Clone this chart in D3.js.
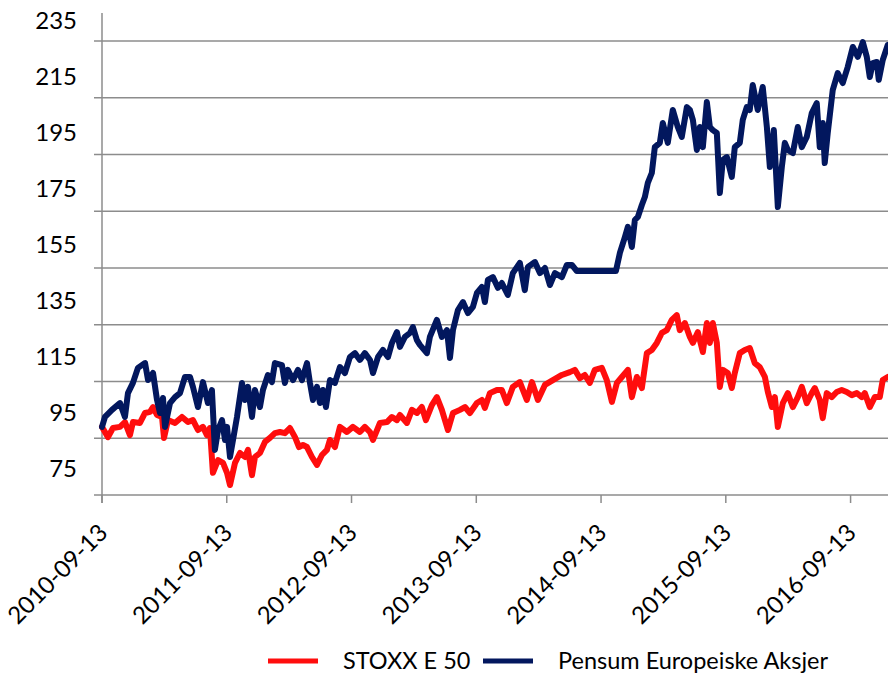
<!DOCTYPE html>
<html>
<head>
<meta charset="utf-8">
<script src="https://cdn.jsdelivr.net/npm/d3@7"></script>
<style>
body{margin:0;background:#fff}
text{font-family:Lato,"Open Sans",sans-serif;fill:#000}
</style>
</head>
<body>
<svg id="main_svg" width="888" height="674"></svg>
<script>
// axis ticks
let yTicks = [75, 95, 115, 135, 155, 175, 195, 215, 235]
let xTickYears = [2010.70, 2011.70, 2012.70, 2013.70, 2014.70, 2015.70, 2016.70]
let xTickLabels = ["2010-09-13", "2011-09-13", "2012-09-13", "2013-09-13", "2014-09-13", "2015-09-13", "2016-09-13"]
let seriesNames = ["STOXX E 50", "Pensum Europeiske Aksjer"]
let seriesColors = ["#ff0d0d", "#02175e"]

// STOXX E 50 (index, decimal year)
let stoxxYears = [2010.700,2010.748,2010.788,2010.844,2010.884,2010.924,2010.948,2011.004,2011.045,2011.085,
    2011.109,2011.141,2011.181,2011.197,2011.229,2011.285,2011.341,2011.389,2011.429,2011.469,
    2011.509,2011.541,2011.565,2011.589,2011.630,2011.670,2011.702,2011.726,2011.766,2011.806,
    2011.846,2011.870,2011.902,2011.926,2011.966,2012.006,2012.046,2012.086,2012.126,2012.166,
    2012.206,2012.247,2012.279,2012.311,2012.343,2012.383,2012.423,2012.463,2012.503,2012.527,
    2012.567,2012.607,2012.663,2012.711,2012.767,2012.807,2012.848,2012.872,2012.928,2012.984,
    2013.024,2013.064,2013.088,2013.144,2013.184,2013.224,2013.264,2013.296,2013.344,2013.384,
    2013.424,2013.473,2013.513,2013.569,2013.609,2013.649,2013.705,2013.745,2013.769,2013.809,
    2013.865,2013.905,2013.945,2013.993,2014.049,2014.105,2014.146,2014.194,2014.250,2014.314,
    2014.386,2014.450,2014.490,2014.530,2014.570,2014.610,2014.650,2014.706,2014.746,2014.787,
    2014.827,2014.867,2014.915,2014.947,2014.987,2015.027,2015.067,2015.107,2015.147,2015.187,
    2015.227,2015.267,2015.307,2015.331,2015.372,2015.412,2015.436,2015.476,2015.516,2015.548,
    2015.572,2015.596,2015.628,2015.652,2015.676,2015.716,2015.748,2015.772,2015.812,2015.852,
    2015.892,2015.932,2015.972,2016.013,2016.037,2016.069,2016.093,2016.117,2016.157,2016.197,
    2016.237,2016.277,2016.309,2016.349,2016.389,2016.413,2016.453,2016.477,2016.509,2016.549,
    2016.589,2016.629,2016.669,2016.710,2016.750,2016.790,2016.814,2016.854,2016.894,2016.934,
    2016.958,2016.998]
let stoxxValues = [99.0,95.4,98.6,99.0,100.7,96.1,100.7,100.4,103.9,104.3,
    106.0,103.2,102.5,95.1,101.4,100.4,102.5,100.7,101.4,97.9,
    99.0,96.1,98.6,82.8,87.3,86.3,82.8,78.5,86.3,89.8,
    88.4,90.9,82.0,88.4,89.8,93.7,95.1,96.8,97.2,96.8,
    98.6,95.4,91.9,92.6,91.9,88.4,85.6,89.1,90.9,94.4,
    91.9,99.0,97.2,99.0,97.2,99.0,97.2,94.4,100.4,100.7,
    102.5,101.4,103.2,100.4,105.0,103.9,106.0,101.4,106.7,109.5,
    105.0,97.9,103.9,105.0,106.0,103.9,107.4,108.5,105.7,110.9,
    112.0,112.0,107.4,113.1,114.8,108.5,114.8,108.5,113.8,115.5,
    117.3,118.3,119.1,116.2,117.3,114.5,119.1,119.8,115.5,107.8,
    114.5,116.6,119.1,109.5,116.6,112.7,125.0,126.1,128.6,132.1,
    133.1,136.7,138.4,133.1,135.6,130.7,128.6,132.4,125.4,135.6,
    128.6,135.6,128.6,113.1,119.1,118.0,112.7,118.0,125.0,126.1,
    126.8,121.5,120.1,116.6,111.3,106.0,109.5,99.0,107.4,110.9,
    106.0,109.5,113.1,107.4,110.9,112.7,108.5,102.1,110.9,109.5,
    111.3,112.0,111.3,110.2,110.9,109.5,110.9,106.0,109.5,109.5,
    115.5,116.6]

// Pensum Europeiske Aksjer (index, decimal year)
let pensumYears = [2010.700,2010.724,2010.780,2010.844,2010.884,2010.908,2010.948,2010.988,2011.045,2011.069,
    2011.109,2011.141,2011.165,2011.189,2011.205,2011.245,2011.285,2011.325,2011.365,2011.405,
    2011.429,2011.469,2011.509,2011.549,2011.581,2011.605,2011.630,2011.662,2011.686,2011.702,
    2011.726,2011.750,2011.782,2011.822,2011.846,2011.870,2011.902,2011.926,2011.966,2011.990,
    2012.030,2012.062,2012.086,2012.142,2012.166,2012.190,2012.231,2012.271,2012.303,2012.343,
    2012.367,2012.391,2012.423,2012.447,2012.471,2012.495,2012.527,2012.567,2012.607,2012.647,
    2012.687,2012.727,2012.767,2012.807,2012.848,2012.872,2012.912,2012.952,2012.992,2013.024,
    2013.064,2013.088,2013.128,2013.168,2013.192,2013.224,2013.248,2013.304,2013.328,2013.384,
    2013.424,2013.465,2013.489,2013.513,2013.553,2013.593,2013.633,2013.673,2013.705,2013.745,
    2013.769,2013.793,2013.833,2013.873,2013.905,2013.953,2013.993,2014.049,2014.089,2014.114,
    2014.170,2014.210,2014.250,2014.290,2014.330,2014.386,2014.426,2014.466,2014.506,2014.819,
    2014.851,2014.891,2014.915,2014.947,2014.971,2014.995,2015.027,2015.051,2015.075,2015.107,
    2015.131,2015.171,2015.195,2015.235,2015.275,2015.315,2015.347,2015.388,2015.412,2015.436,
    2015.468,2015.492,2015.516,2015.548,2015.572,2015.596,2015.628,2015.652,2015.676,2015.708,
    2015.748,2015.772,2015.812,2015.836,2015.868,2015.892,2015.916,2015.956,2015.996,2016.029,
    2016.053,2016.085,2016.117,2016.149,2016.173,2016.197,2016.237,2016.277,2016.309,2016.349,
    2016.389,2016.429,2016.453,2016.477,2016.493,2016.517,2016.557,2016.597,2016.637,2016.677,
    2016.718,2016.758,2016.798,2016.830,2016.854,2016.878,2016.910,2016.926,2016.958,2016.998]
let pensumValues = [99.0,102.5,105.0,107.4,102.5,110.9,114.5,119.8,121.5,115.5,
    118.0,108.5,103.9,109.2,99.0,107.4,109.5,110.9,116.6,116.6,
    113.1,106.0,114.8,107.4,112.0,90.9,97.9,101.4,94.4,99.0,
    88.4,94.4,102.5,114.5,108.5,113.1,102.5,112.0,106.0,112.0,
    117.3,114.8,121.5,120.8,114.5,119.1,115.5,119.1,115.5,121.5,
    114.5,108.5,113.1,107.4,112.0,106.0,115.5,114.5,120.1,118.0,
    123.6,125.0,122.6,125.0,122.6,118.0,123.6,126.1,123.6,128.6,
    132.4,127.2,130.7,132.1,134.2,129.6,127.9,125.0,130.7,136.7,
    130.7,133.1,123.3,133.1,140.2,143.0,139.1,141.3,146.2,148.3,
    143.0,150.8,151.8,148.0,149.7,145.5,153.2,156.8,147.2,155.4,
    157.1,153.2,155.0,149.0,153.2,151.8,156.1,156.1,153.9,153.9,
    160.3,165.9,169.5,162.4,171.9,173.0,177.2,180.0,185.0,188.5,
    197.6,199.1,206.1,199.1,210.7,204.7,201.2,211.7,210.7,207.2,
    196.6,204.7,197.6,213.5,204.7,203.6,202.6,181.4,193.1,194.1,
    187.1,197.6,199.1,207.2,211.7,210.7,219.5,210.7,218.8,204.7,
    190.6,203.6,176.5,190.6,199.1,196.6,195.5,204.7,197.6,201.2,
    209.6,213.1,197.6,206.1,192.0,202.6,217.7,223.7,220.2,225.8,
    232.9,229.4,234.6,229.4,222.3,227.2,227.6,221.3,228.3,233.6]

let svg = d3.select("#main_svg")

let x = d3.scaleLinear().domain([2010.70, 2017.00]).range([102, 888])
let y = d3.scaleLinear().domain([75, 235]).range([495, 41])
// labels sit a little above the gridlines, like in the original
let yLabel = d3.scaleLinear().domain([75, 235]).range([468, 20.5])

let gridColor = "#8c8c8c"

function draw_grid(){
    svg.selectAll(".grid")
        .data(yTicks.slice(1))
        .enter()
        .append("line")
        .attr("class", "grid")
        .attr("x1", 94)
        .attr("x2", 888)
        .attr("y1", d => y(d))
        .attr("y2", d => y(d))
        .attr("stroke", gridColor)
        .attr("stroke-width", 1.5)

    // y axis line
    svg.append("line")
        .attr("x1", x(2010.70)).attr("x2", x(2010.70))
        .attr("y1", 13).attr("y2", 503)
        .attr("stroke", gridColor).attr("stroke-width", 1.5)

    // x axis line
    svg.append("line")
        .attr("x1", 94).attr("x2", 888)
        .attr("y1", y(75)).attr("y2", y(75))
        .attr("stroke", gridColor).attr("stroke-width", 1.5)

    svg.selectAll(".xtick")
        .data(xTickYears)
        .enter()
        .append("line")
        .attr("class", "xtick")
        .attr("x1", d => x(d)).attr("x2", d => x(d))
        .attr("y1", y(75)).attr("y2", y(75) + 8)
        .attr("stroke", gridColor).attr("stroke-width", 1.5)
}

function draw_labels(){
    svg.selectAll(".ylab")
        .data(yTicks)
        .enter()
        .append("text")
        .attr("class", "ylab")
        .attr("x", 77)
        .attr("y", d => yLabel(d))
        .attr("dy", "0.36em")
        .attr("text-anchor", "end")
        .style("font-size", "24px")
        .text(d => d)

    svg.selectAll(".xlab")
        .data(xTickYears)
        .enter()
        .append("text")
        .attr("class", "xlab")
        .attr("transform", d => "translate(" + (x(d) + 1) + "," + 528 + "), rotate(-45)")
        .attr("dy", "0.36em")
        .attr("text-anchor", "end")
        .style("font-size", "24px")
        .text((d, i) => xTickLabels[i])
}

function draw_series(years, values, color){
    let pts = years.map((d, i) => [d, values[i]])
    let line = d3.line()
        .x(d => x(d[0]))
        .y(d => y(d[1]))
    svg.append("path")
        .datum(pts)
        .attr("d", line)
        .attr("fill", "none")
        .attr("stroke", color)
        .attr("stroke-width", 6)
        .attr("stroke-linejoin", "round")
        .attr("stroke-linecap", "round")
}

function draw_legend(){
    let legX = [268, 483]
    let ly = 661
    let leg = svg.selectAll(".leg")
        .data(seriesNames)
        .enter()
        .append("g")
        .attr("class", "leg")
        .attr("transform", (d, i) => "translate(" + legX[i] + "," + ly + ")")
    leg.append("line")
        .attr("x1", 0).attr("x2", 50)
        .attr("y1", 0).attr("y2", 0)
        .attr("stroke", (d, i) => seriesColors[i])
        .attr("stroke-width", 5)
    leg.append("text")
        .attr("x", 75)
        .attr("y", 0)
        .attr("dy", "0.36em")
        .style("font-size", "23.5px")
        .text(d => d)
}

draw_grid()
draw_labels()
draw_series(stoxxYears, stoxxValues, seriesColors[0])
draw_series(pensumYears, pensumValues, seriesColors[1])
draw_legend()
</script>
</body>
</html>
